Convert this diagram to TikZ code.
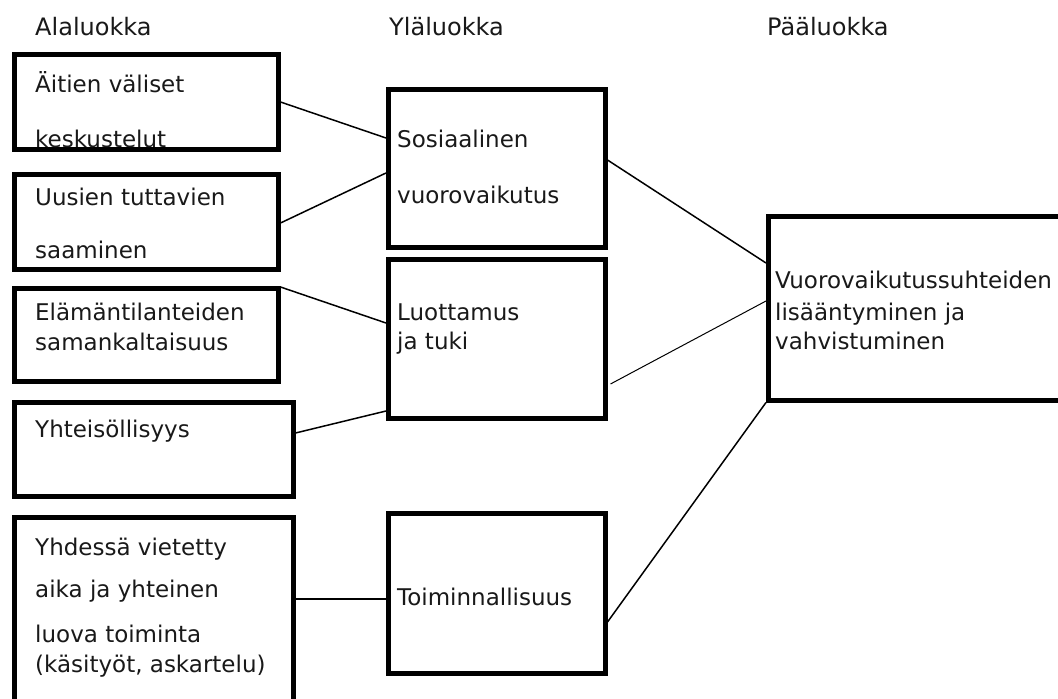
\documentclass[tikz,border=0pt]{standalone}
\usepackage{fontspec}
\setmainfont{DejaVu Sans}
\begin{document}
\begin{tikzpicture}[x=1pt,y=-1pt,
  box/.style={draw=black, line width=4.5pt, rectangle, anchor=north west, inner sep=0pt},
  txt/.style={anchor=base west, inner sep=0pt, font=\fontsize{23}{27}\selectfont, text=black!90},
  head/.style={txt, font=\fontsize{24}{28}\selectfont},
  conn/.style={draw=black, line width=1.5pt},
  thinconn/.style={draw=black, line width=1pt}]
\useasboundingbox (0,0) rectangle (1058,699);
\clip (0,0) rectangle (1058,699);
\fill[white] (0,0) rectangle (1058,699);

% headers
\node[head] (h1) at (35,35) {Alaluokka};
\node[head] (h2) at (389,35) {Yläluokka};
\node[head] (h3) at (767,35) {Pääluokka};

% sub-category boxes
\node[box, minimum width=264pt, minimum height=95pt] (b1) at (12,52) {};
\node[box, minimum width=264pt, minimum height=95pt] (b2) at (12,172) {};
\node[box, minimum width=264pt, minimum height=93pt] (b3) at (12,286) {};
\node[box, minimum width=279pt, minimum height=94pt] (b4) at (12,400) {};
\node[box, minimum width=279pt, minimum height=250pt] (b5) at (12,515) {};

% upper category boxes
\node[box, minimum width=217pt, minimum height=158pt] (s) at (386,87) {};
\node[box, minimum width=217pt, minimum height=159pt] (l) at (386,257) {};
\node[box, minimum width=217pt, minimum height=160pt] (t) at (386,511) {};

% main category box
\node[box, minimum width=400pt, minimum height=184pt] (m) at (766,214) {};

% texts
\node[txt] (t1a) at (35,92) {Äitien väliset};
\node[txt] (t1b) at (35,147) {keskustelut};
\node[txt] (t2a) at (35,205) {Uusien tuttavien};
\node[txt] (t2b) at (35,258) {saaminen};
\node[txt] (t3a) at (35,320) {Elämäntilanteiden};
\node[txt] (t3b) at (35,350) {samankaltaisuus};
\node[txt] (t4a) at (35,437) {Yhteisöllisyys};
\node[txt] (t5a) at (35,555) {Yhdessä vietetty};
\node[txt] (t5b) at (35,597) {aika ja yhteinen};
\node[txt] (t5c) at (35,642) {luova toiminta};
\node[txt] (t5d) at (35,672) {(käsityöt, askartelu)};

\node[txt] (sa) at (397,147) {Sosiaalinen};
\node[txt] (sb) at (397,203) {vuorovaikutus};
\node[txt] (la) at (397,320) {Luottamus};
\node[txt] (lb) at (397,349) {ja tuki};
\node[txt] (ta) at (397,605) {Toiminnallisuus};

\node[txt] (ma) at (775,288) {Vuorovaikutussuhteiden};
\node[txt] (mb) at (775,320) {lisääntyminen ja};
\node[txt] (mc) at (775,349) {vahvistuminen};

% connectors
\draw[conn] (b1.east |- 0,102) -- (s.west |- 0,138);
\draw[conn] (b2.east |- 0,223) -- (s.west |- 0,173);
\draw[conn] (b3.east |- 0,287) -- (l.west |- 0,323);
\draw[conn] (b4.east |- 0,433) -- (l.west |- 0,411);
\draw[conn] (b5.east |- 0,599) -- (t.west |- 0,599);
\draw[conn] (s.east |- 0,160) -- (m.west |- 0,263);
\draw[thinconn] ([xshift=3pt]l.east |- 0,384) -- (m.west |- 0,301);
\draw[conn] (t.east |- 0,622) -- (m.south west);
\end{tikzpicture}
\end{document}
